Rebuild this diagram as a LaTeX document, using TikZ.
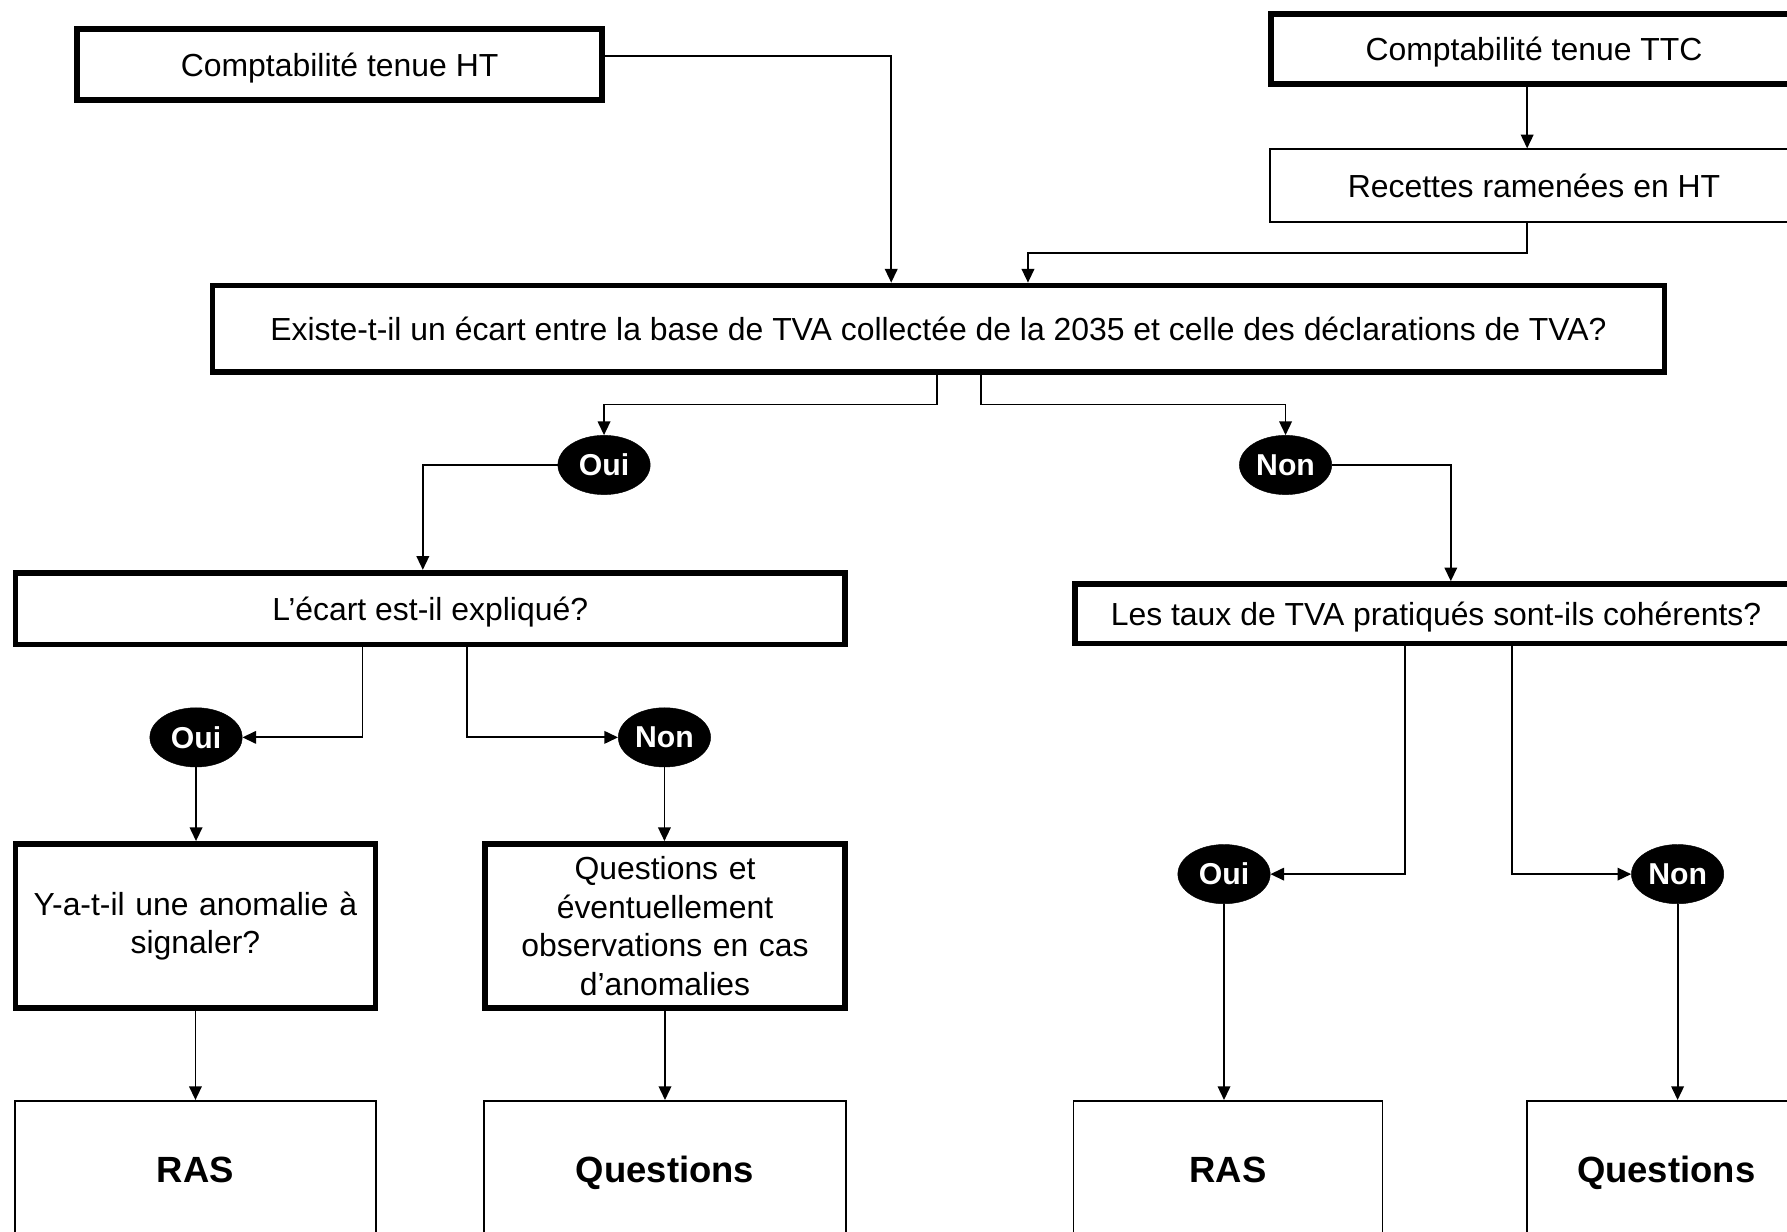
\documentclass[tikz,border=0pt]{standalone}
\usepackage{fontspec}
\setmainfont{Liberation Sans}
\usetikzlibrary{arrows.meta,shapes.geometric}

\tikzset{
  base/.style={draw=black, inner sep=0pt, align=center, anchor=center,
    font=\fontsize{28}{33.7}\selectfont},
  % single-line labels are centred on their letters, descenders ignored
  oneline/.style={text depth=0pt},
  thickbox/.style={base, line width=5pt},
  thinbox/.style={base, line width=1.6pt},
  endbox/.style={thinbox, oneline, font=\fontsize{32}{38}\selectfont\bfseries},
  answer/.style={ellipse, fill=black, draw=black, text=white, inner sep=0pt,
    minimum width=81pt, minimum height=52pt,
    font=\fontsize{26.5}{30}\selectfont\bfseries},
  conn/.style={line width=1.6pt, -{Triangle[length=12pt,width=11pt]}}
}

\begin{document}
\begin{tikzpicture}[x=1pt,y=1pt]
\clip (0,0) rectangle (1568,-1081);
\fill[white] (0,0) rectangle (1568,-1081);

% entry boxes
\node[thickbox, oneline, minimum width=461pt, minimum height=62pt] (a) at (298,-56.5) {Comptabilité tenue HT};
\node[thickbox, oneline, minimum width=461pt, minimum height=61pt] (b) at (1346,-43) {Comptabilité tenue TTC};
\node[thinbox, oneline, minimum width=464pt, minimum height=64pt] (c) at (1346,-163) {Recettes ramenées en HT};

% main question
\node[thickbox, oneline, minimum width=1274pt, minimum height=76pt] (d) at (823.5,-288.5)
  {Existe-t-il un écart entre la base de TVA collectée de la 2035 et celle des déclarations de TVA?};

% first answers
\node[answer] (oui1) at (530,-408) {Oui};
\node[answer] (non1) at (1128,-408) {Non};

% second level questions
\node[thickbox, oneline, minimum width=728pt, minimum height=63pt] (e) at (377.5,-534) {L’écart est-il expliqué?};
\node[thickbox, oneline, minimum width=633pt, minimum height=52pt] (f) at (1260,-538.5) {Les taux de TVA pratiqués sont-ils cohérents?};

% second answers
\node[answer] (oui2) at (172,-647) {Oui};
\node[answer] (non2) at (583,-647) {Non};
\node[answer] (oui3) at (1074,-767) {Oui};
\node[answer] (non3) at (1472,-767) {Non};

% third level
\node[thickbox, minimum width=316pt, minimum height=144pt, text width=300pt] (g) at (171.5,-812.5)
  {Y-a-t-il une anomalie à\\ signaler?};
\node[thickbox, minimum width=316pt, minimum height=144pt, text width=300pt] (h) at (583.5,-812.5)
  {Questions et\\ éventuellement\\ observations en cas\\ d’anomalies};

% outcomes
\node[endbox, minimum width=317pt, minimum height=120pt] (i) at (171.5,-1026) {RAS};
\node[endbox, minimum width=317pt, minimum height=120pt] (j) at (583.5,-1026) {Questions};
\node[endbox, minimum width=271pt, minimum height=120pt] (k) at (1077.5,-1026) {RAS};
\node[endbox, minimum width=244pt, minimum height=120pt] (l) at (1462,-1026) {Questions};

% routing coordinates
\coordinate (ja) at (782,-49);
\coordinate (xc) at (1340,0);
\coordinate (jc) at (902,-222);
\coordinate (bl) at (822,-355);
\coordinate (br) at (861,-355);
\coordinate (xe) at (371,0);
\coordinate (xf) at (1273,0);
\coordinate (xe1) at (318,0);
\coordinate (xe2) at (410,0);
\coordinate (xf1) at (1233,0);
\coordinate (xf2) at (1327,0);

% connectors
\draw[conn] (a.east |- ja) -| (d.north -| ja);
\draw[conn] (b.south -| xc) -- (c.north -| xc);
\draw[conn] (c.south -| xc) |- (jc) -- (d.north -| jc);

\draw[conn] (d.south -| bl) -- (bl) -| (oui1.north);
\draw[conn] (d.south -| br) -- (br) -| (non1.north);

\draw[conn] (oui1.west) -| (e.north -| xe);
\draw[conn] (non1.east) -| (f.north -| xf);

\draw[conn] (e.south -| xe1) |- (oui2.east);
\draw[conn] (e.south -| xe2) |- (non2.west);
\draw[conn] (f.south -| xf1) |- (oui3.east);
\draw[conn] (f.south -| xf2) |- (non3.west);

\draw[conn] (oui2.south) -- (oui2.south |- g.north);
\draw[conn] (non2.south) -- (non2.south |- h.north);
\draw[conn] (g.south) -- (g.south |- i.north);
\draw[conn] (h.south) -- (h.south |- j.north);
\draw[conn] (oui3.south) -- (oui3.south |- k.north);
\draw[conn] (non3.south) -- (non3.south |- l.north);
\end{tikzpicture}
\end{document}
